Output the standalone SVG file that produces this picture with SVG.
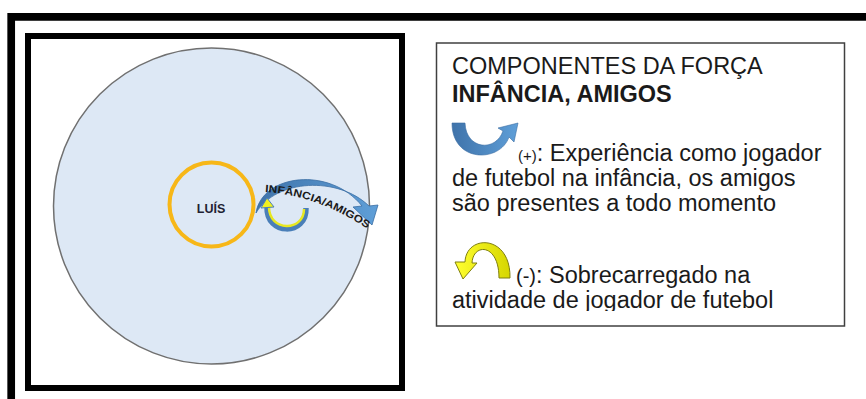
<svg xmlns="http://www.w3.org/2000/svg" width="866" height="399" viewBox="0 0 866 399">
<defs>
<linearGradient id="blueG" x1="0" y1="0" x2="1" y2="0">
<stop offset="0" stop-color="#3f73aa"/><stop offset="1" stop-color="#5f9fd8"/>
</linearGradient>
<linearGradient id="yelG" x1="0" y1="0" x2="1" y2="0">
<stop offset="0" stop-color="#ffff30"/><stop offset="1" stop-color="#d6d600"/>
</linearGradient>
<clipPath id="legendClip"><rect x="437" y="44" width="407" height="267"/></clipPath>
<path id="labelPath" d="M 265 192 Q 318 195 371 231"/>
</defs>
<style>
.lt{font-family:"Liberation Sans",Arial,sans-serif;font-size:23.5px;fill:#1a1a1a}
.b{font-weight:bold}
</style>
<rect width="866" height="399" fill="#ffffff"/>
<path d="M 11.2 410 V 16.9 H 880" fill="none" stroke="#000" stroke-width="7.7"/>
<g id="diagram-frame">
<rect x="28" y="36" width="374" height="352" fill="#fff" stroke="#000" stroke-width="6"/>
</g>
<g id="force-field">
<circle cx="211.5" cy="206" r="158" fill="#dde8f5" stroke="#707070" stroke-width="1.5"/>
</g>
<g id="luis">
<circle cx="211.5" cy="204.5" r="42" fill="none" stroke="#f7b718" stroke-width="4"/>
<text x="211" y="213" text-anchor="middle" font-family="Liberation Sans,Arial,sans-serif" font-weight="bold" font-size="12.5" fill="#1f1f33">LUÍS</text>
</g>
<g id="connectors">
<path d="M 256 213 C 262 174 330 166 362 206 L 353 207 L 372 225 L 378 205 L 369 206 C 338 176 276 179 256 213 Z" fill="url(#blueG)" stroke="#3a6da3" stroke-width="0.8"/>
<path d="M 306 208 C 307 236 266 236 267 207" fill="none" stroke="#4a7fb8" stroke-width="5.5"/>
<path d="M 304 209 C 304 232 269 232 269 207" fill="none" stroke="#e8e820" stroke-width="2.5"/>
<polygon points="261,208 274,207 267,198" fill="#f0f020" stroke="#4a7fb8" stroke-width="1"/>
<text font-family="Liberation Sans,Arial,sans-serif" font-weight="bold" font-size="10.5" fill="#1a1a1a"><textPath href="#labelPath" textLength="110" lengthAdjust="spacingAndGlyphs">INFÂNCIA/AMIGOS</textPath></text>
</g>
<g id="legend">
<rect x="436.5" y="43" width="408" height="283" fill="#fff" stroke="#404040" stroke-width="1.5"/>
<g clip-path="url(#legendClip)">
<text class="lt" x="452" y="74">COMPONENTES DA FORÇA</text>
<text class="lt b" x="452" y="101.5">INFÂNCIA, AMIGOS</text>
<path d="M 452 123 L 465 123 C 466 150 496 152 503 131 L 498 128 L 518 123 L 514 142 L 509 137 C 500 163 452 163 452 123 Z" fill="url(#blueG)" stroke="#3a6da3" stroke-width="0.6"/>
<text class="lt" x="518" y="161"><tspan font-size="15">(+)</tspan>: Experiência como jogador</text>
<text class="lt" x="452" y="186">de futebol na infância, os amigos</text>
<text class="lt" x="452" y="211">são presentes a todo momento</text>
<path d="M 510 278 C 511 234 466 234 465 262 L 455 262 L 463 279 L 477 263 L 472 263 C 473 243 499 243 499 278 Z" fill="url(#yelG)" stroke="#7f7f10" stroke-width="1"/>
<text class="lt" x="516" y="283"><tspan font-size="20">(-)</tspan>: Sobrecarregado na</text>
<text class="lt" x="452" y="308">atividade de jogador de futebol</text>
</g>
</g>
</svg>
